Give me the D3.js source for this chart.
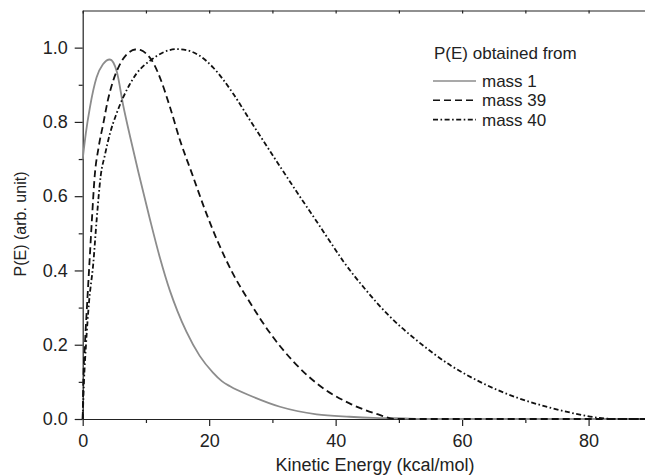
<!DOCTYPE html>
<html>
<head>
<meta charset="utf-8">
<script src="https://cdn.jsdelivr.net/npm/d3@7"></script>
<style>
  body { margin: 0; background: #fff; }
  svg { font-family: "Liberation Sans", Arial, sans-serif; }
  .axis text { font-size: 18px; fill: #222; }
  .axis path, .axis line { stroke: #222; stroke-width: 1.2; }
</style>
</head>
<body>
<script>
// P(E) curves
const energy1 = [0, 0.5, 1.15, 2.2, 3.2, 4.3, 5.4, 6.4, 7.5, 8.8, 10.6, 12.2, 13.8, 15.0, 16.4, 18.5, 20.6, 22.0, 23.3, 26.9, 31.2, 37, 42.2, 46, 49.6, 55, 89];
const pe1 = [0.70, 0.77, 0.84, 0.92, 0.955, 0.968, 0.935, 0.845, 0.76, 0.665, 0.54, 0.435, 0.345, 0.29, 0.235, 0.17, 0.125, 0.102, 0.088, 0.06, 0.033, 0.0126, 0.006, 0.003, 0.002, 0, 0];

const energy39 = [0, 0.1, 0.35, 0.7, 1.1, 1.45, 1.9, 2.5, 3.25, 4.0, 4.8, 5.6, 6.4, 7.3, 8.3, 9.2, 10.1, 11.2, 12.2, 13.8, 15.4, 17.3, 19.3, 21.3, 23.8, 26.4, 29.6, 33.3, 37.0, 42.2, 46.4, 49.6, 89];
const pe39 = [0, 0.1, 0.2, 0.31, 0.43, 0.535, 0.655, 0.73, 0.795, 0.86, 0.91, 0.945, 0.97, 0.987, 0.995, 0.993, 0.983, 0.958, 0.92, 0.84, 0.75, 0.66, 0.565, 0.48, 0.39, 0.315, 0.232, 0.155, 0.096, 0.042, 0.014, 0, 0];

const energy40 = [0, 0.2, 0.52, 1.0, 1.67, 2.2, 2.85, 3.5, 4.3, 5.3, 6.4, 7.4, 8.5, 9.7, 10.9, 12.7, 14.8, 16.5, 18.5, 20.6, 23.8, 26.4, 29.1, 31.7, 34.3, 37.0, 39.1, 41.2, 44.9, 48.5, 52.8, 58.3, 63.3, 68.6, 73.8, 78, 81.7, 84, 89];
const pe40 = [0, 0.1, 0.2, 0.315, 0.418, 0.535, 0.655, 0.71, 0.768, 0.82, 0.866, 0.9, 0.93, 0.952, 0.968, 0.987, 0.996, 0.993, 0.978, 0.947, 0.876, 0.806, 0.735, 0.667, 0.6, 0.532, 0.478, 0.425, 0.345, 0.277, 0.212, 0.143, 0.096, 0.058, 0.031, 0.014, 0.003, 0, 0];

const seriesNames = ["mass 1", "mass 39", "mass 40"];
const xMajor = [0, 20, 40, 60, 80];
const xMinor = [10, 30, 50, 70];
const yMajor = [0, 0.2, 0.4, 0.6, 0.8, 1.0];
const yMinor = [0.1, 0.3, 0.5, 0.7, 0.9];

const w = 645, h = 476;
const plotLeft = 82.7, plotRight = 645.5, plotTop = 10.5, plotBottom = 419;

const svg = d3.select("body").append("svg")
    .attr("width", w)
    .attr("height", h);

const x = d3.scaleLinear().domain([0, 89]).range([plotLeft, plotRight]);
const y = d3.scaleLinear().domain([0, 1.1]).range([plotBottom, plotTop]);

// axes
svg.append("g")
    .attr("class", "axis")
    .attr("transform", `translate(0,${plotBottom})`)
    .call(d3.axisBottom(x).tickValues(xMajor).tickSize(7).tickSizeOuter(0).tickPadding(8).tickFormat(d3.format("d")));
svg.append("g")
    .attr("class", "axis")
    .attr("transform", `translate(0,${plotBottom})`)
    .call(d3.axisBottom(x).tickValues(xMinor).tickSize(4).tickSizeOuter(0).tickFormat(""))
    .select(".domain").remove();

svg.append("g")
    .attr("class", "axis")
    .attr("transform", `translate(${plotLeft},0)`)
    .call(d3.axisLeft(y).tickValues(yMajor).tickSize(8).tickSizeOuter(0).tickPadding(7).tickFormat(d3.format(".1f")));
svg.append("g")
    .attr("class", "axis")
    .attr("transform", `translate(${plotLeft},0)`)
    .call(d3.axisLeft(y).tickValues(yMinor).tickSize(4).tickSizeOuter(0).tickFormat(""))
    .select(".domain").remove();

// top frame line with small inner ticks
svg.append("g")
    .attr("class", "axis")
    .attr("transform", `translate(0,${y(1.1)})`)
    .call(d3.axisTop(x).tickValues(xMajor.concat(xMinor)).tickSize(-3).tickSizeOuter(0).tickFormat(""));

// axis titles
svg.append("text")
    .attr("x", 375)
    .attr("y", 471)
    .attr("text-anchor", "middle")
    .style("font-size", "18px")
    .style("fill", "#222")
    .text("Kinetic Energy (kcal/mol)");

svg.append("text")
    .attr("transform", "translate(26,224) rotate(-90)")
    .attr("text-anchor", "middle")
    .style("font-size", "16px")
    .style("fill", "#222")
    .text("P(E) (arb. unit)");

// curves
const line = d3.line()
    .x(d => x(d[0]))
    .y(d => y(d[1]))
    .curve(d3.curveMonotoneX);

const styles = [
    { color: "#8c8c8c", dash: null },
    { color: "#111", dash: "7,4" },
    { color: "#111", dash: "5,2.5,1.6,2.5" }
];
const series = [
    d3.zip(energy1, pe1),
    d3.zip(energy39, pe39),
    d3.zip(energy40, pe40)
];

series.forEach((s, i) => {
    svg.append("path")
        .datum(s)
        .attr("fill", "none")
        .attr("stroke", styles[i].color)
        .attr("stroke-width", 1.8)
        .attr("stroke-dasharray", styles[i].dash)
        .attr("d", line);
});

// legend
const legend = svg.append("g").attr("transform", "translate(433,0)");
legend.append("text")
    .attr("x", 1)
    .attr("y", 58.5)
    .style("font-size", "17px")
    .style("fill", "#222")
    .text("P(E) obtained from");

seriesNames.forEach((name, i) => {
    const ly = 81 + i * 19.3;
    legend.append("line")
        .attr("x1", 0).attr("x2", 43)
        .attr("y1", ly).attr("y2", ly)
        .attr("stroke", styles[i].color)
        .attr("stroke-width", 1.6)
        .attr("stroke-dasharray", styles[i].dash);
    legend.append("text")
        .attr("x", 49)
        .attr("y", ly)
        .attr("dy", "0.35em")
        .style("font-size", "17px")
        .style("fill", "#222")
        .text(name);
});
</script>
</body>
</html>
